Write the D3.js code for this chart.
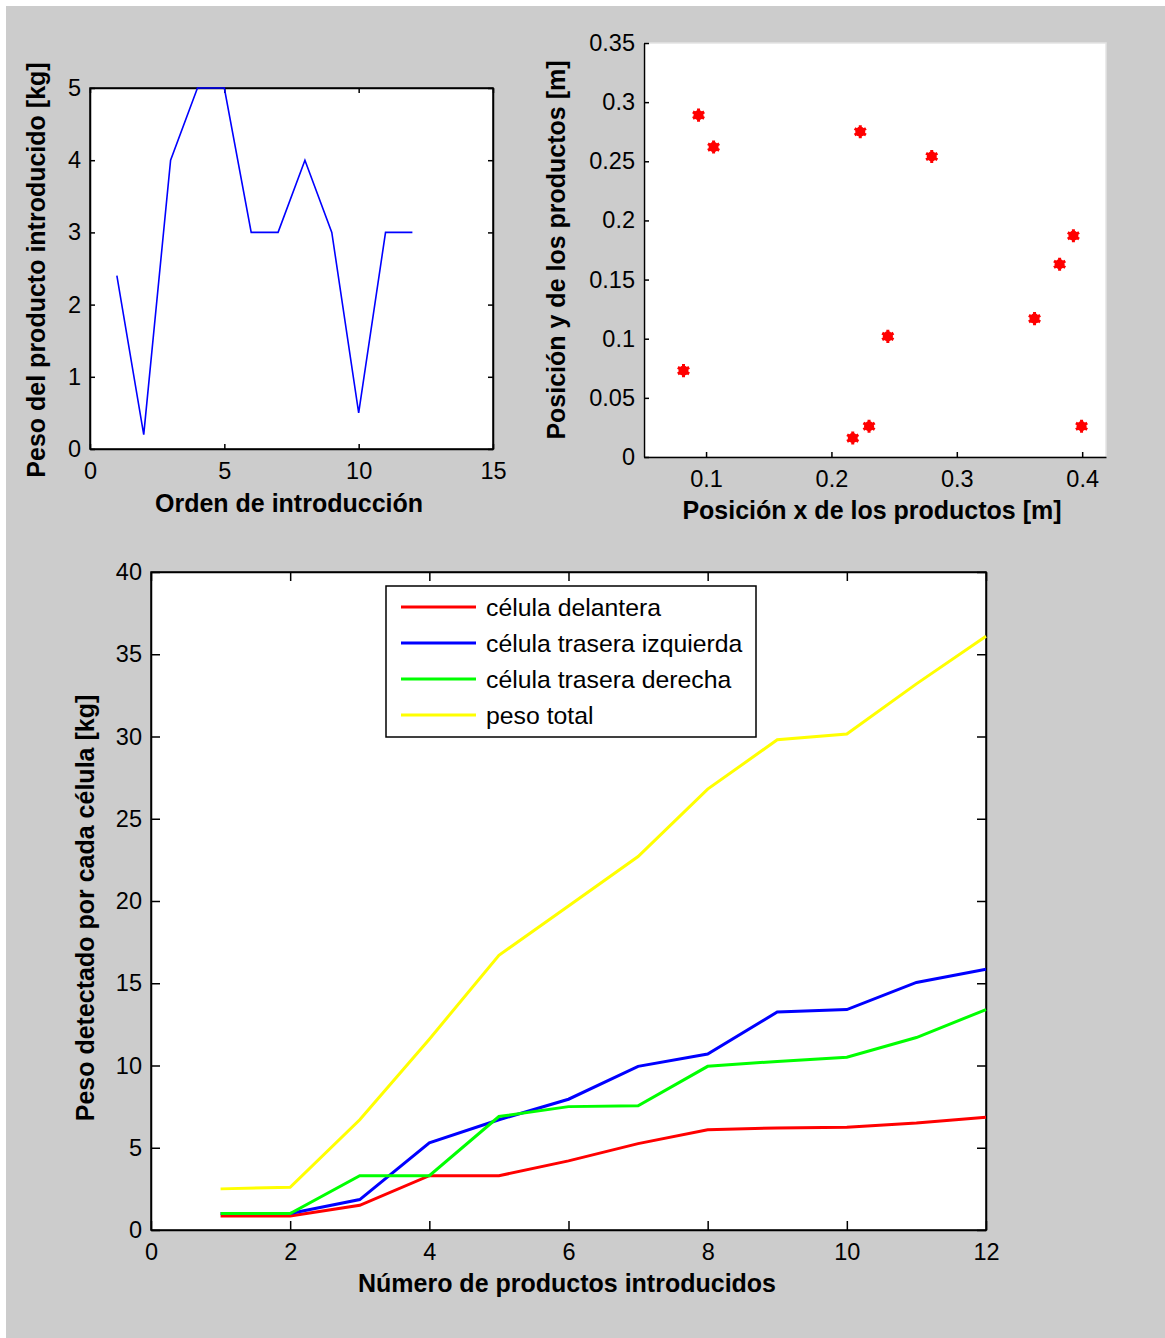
<!DOCTYPE html>
<html>
<head>
<meta charset="utf-8">
<script src="https://cdn.jsdelivr.net/npm/d3@7"></script>
<style>
  body { margin: 0; background: #fff; }
  svg text { font-family: "Liberation Sans", Arial, sans-serif; fill: #000; }
  .tick text { font-size: 23.5px; }
  .lbl { font-size: 25px; font-weight: bold; }
  .leg { font-size: 24.8px; }
</style>
</head>
<body>
<svg></svg>
<script>
// data
const orden = [1, 2, 3, 4, 5, 6, 7, 8, 9, 10, 11, 12];
const peso = [2.4, 0.2, 4.0, 5.0, 5.0, 3.0, 3.0, 4.0, 3.0, 0.5, 3.0, 3.0];

const posX = [0.082, 0.094, 0.106, 0.223, 0.280, 0.217, 0.230, 0.245, 0.362, 0.382, 0.393, 0.3995];
const posY = [0.073, 0.289, 0.262, 0.275, 0.254, 0.016, 0.026, 0.102, 0.117, 0.163, 0.187, 0.026];

const productos = [1, 2, 3, 4, 5, 6, 7, 8, 9, 10, 11, 12];
const delantera = [0.85, 0.85, 1.5, 3.3, 3.3, 4.2, 5.25, 6.1, 6.2, 6.25, 6.5, 6.85];
const izquierda = [1.0, 1.0, 1.85, 5.3, 6.7, 7.95, 9.95, 10.7, 13.25, 13.4, 15.05, 15.85];
const derecha = [1.0, 1.0, 3.3, 3.3, 6.9, 7.5, 7.55, 9.95, 10.25, 10.5, 11.7, 13.4];
const total = [2.5, 2.6, 6.7, 11.6, 16.7, 19.7, 22.7, 26.8, 29.8, 30.15, 33.2, 36.1];

const seriesNames = ["célula delantera", "célula trasera izquierda", "célula trasera derecha", "peso total"];
const seriesColors = ["#ff0000", "#0000ff", "#00ff00", "#ffff00"];

const ticks1x = [0, 5, 10, 15], ticks1y = [0, 1, 2, 3, 4, 5];
const ticks2x = [0.1, 0.2, 0.3, 0.4], ticks2y = [0, 0.05, 0.1, 0.15, 0.2, 0.25, 0.3, 0.35];
const ticks3x = [0, 2, 4, 6, 8, 10, 12], ticks3y = [0, 5, 10, 15, 20, 25, 30, 35, 40];

const width = 1165, height = 1338;

const svg = d3.select("svg")
  .attr("width", width)
  .attr("height", height);

// figure background
svg.append("rect")
  .attr("x", 6).attr("y", 6)
  .attr("width", width - 6).attr("height", height - 6)
  .attr("fill", "#cccccc");

// draws frame + inward ticks, returns a group
function panel(x, y, box, tk, xticks, yticks, fmt) {
  const g = svg.append("g");
  g.append("rect")
    .attr("x", x.range()[0]).attr("y", y.range()[1])
    .attr("width", x.range()[1] - x.range()[0])
    .attr("height", y.range()[0] - y.range()[1])
    .attr("fill", "#fff")
    .attr("stroke", box ? "#000" : "#e4e4e4")
    .attr("stroke-width", 1.5);

  const bottom = g.append("g")
    .attr("transform", `translate(0,${y.range()[0]})`)
    .call(d3.axisBottom(x).tickValues(xticks).tickSizeInner(-tk).tickSizeOuter(0)
      .tickPadding(13).tickFormat(fmt));
  const left = g.append("g")
    .attr("transform", `translate(${x.range()[0]},0)`)
    .call(d3.axisLeft(y).tickValues(yticks).tickSizeInner(-tk).tickSizeOuter(0)
      .tickPadding(9).tickFormat(fmt));
  if (box) {
    g.append("g")
      .attr("transform", `translate(0,${y.range()[1]})`)
      .call(d3.axisTop(x).tickValues(xticks).tickSizeInner(-tk).tickSizeOuter(0).tickFormat(""));
    g.append("g")
      .attr("transform", `translate(${x.range()[1]},0)`)
      .call(d3.axisRight(y).tickValues(yticks).tickSizeInner(-tk).tickSizeOuter(0).tickFormat(""));
  }
  g.selectAll(".domain").attr("stroke", "#000").attr("stroke-width", 1.5);
  g.selectAll(".tick line").attr("stroke", "#000").attr("stroke-width", 1.5);
  g.selectAll(".tick text").attr("font-family", null).attr("font-size", null);
  bottom.selectAll(".tick text").attr("dy", "0.71em");
  return g;
}

function ylabel(g, text, bx, cy) {
  g.append("text")
    .attr("class", "lbl")
    .attr("transform", `translate(${bx},${cy}) rotate(-90)`)
    .attr("text-anchor", "middle")
    .text(text);
}
function xlabel(g, text, cx, by) {
  g.append("text")
    .attr("class", "lbl")
    .attr("x", cx).attr("y", by)
    .attr("text-anchor", "middle")
    .text(text);
}

const fmt = d => String(d);

// top left: peso por orden
const x1 = d3.scaleLinear().domain([0, 15]).range([90, 493]);
const y1 = d3.scaleLinear().domain([0, 5]).range([449, 88]);
const g1 = panel(x1, y1, true, 5, ticks1x, ticks1y, fmt);
g1.append("path")
  .datum(orden.map((d, i) => [d, peso[i]]))
  .attr("fill", "none")
  .attr("stroke", "#0000ff")
  .attr("stroke-width", 1.6)
  .attr("d", d3.line().x(d => x1(d[0])).y(d => y1(d[1])));
xlabel(g1, "Orden de introducción", 289, 512);
ylabel(g1, "Peso del producto introducido [kg]", 45, 270);

// top right: positions
const x2 = d3.scaleLinear().domain([0.0505, 0.419]).range([644, 1106]);
const y2 = d3.scaleLinear().domain([0, 0.35]).range([457, 43]);
const g2 = panel(x2, y2, false, 5, ticks2x, ticks2y, fmt);
const pts = g2.append("g").selectAll("g")
  .data(posX.map((d, i) => [d, posY[i]]))
  .enter()
  .append("g")
  .attr("transform", d => `translate(${x2(d[0])},${y2(d[1])})`);
pts.append("circle").attr("r", 5).attr("fill", "#ff0000");
pts.append("path")
  .attr("d", d3.symbol(d3.symbolAsterisk, 120))
  .attr("stroke", "#ff0000")
  .attr("stroke-width", 3)
  .attr("fill", "none");
pts.append("path")
  .attr("transform", "rotate(45)")
  .attr("d", d3.symbol(d3.symbolPlus, 80))
  .attr("fill", "#ff0000");
xlabel(g2, "Posición x de los productos [m]", 872, 519);
ylabel(g2, "Posición y de los productos [m]", 565, 250);

// bottom: peso detectado por célula
const x3 = d3.scaleLinear().domain([0, 12]).range([151, 986]);
const y3 = d3.scaleLinear().domain([0, 40]).range([1230, 572]);
const g3 = panel(x3, y3, true, 9, ticks3x, ticks3y, fmt);
const series = [delantera, izquierda, derecha, total];
const line3 = d3.line().x(d => x3(d[0])).y(d => y3(d[1]));
series.forEach((s, k) => {
  g3.append("path")
    .datum(productos.map((d, i) => [d, s[i]]))
    .attr("fill", "none")
    .attr("stroke", seriesColors[k])
    .attr("stroke-width", 3)
    .attr("d", line3);
});
xlabel(g3, "Número de productos introducidos", 567, 1292);
ylabel(g3, "Peso detectado por cada célula [kg]", 94, 908);

// legend
const legend = g3.append("g").attr("transform", "translate(386,586)");
legend.append("rect")
  .attr("width", 370).attr("height", 151)
  .attr("fill", "#fff").attr("stroke", "#000").attr("stroke-width", 1.5);
const rows = legend.selectAll(".row")
  .data(seriesNames)
  .enter()
  .append("g")
  .attr("transform", (d, i) => `translate(0,${21 + i * 36})`);
rows.append("line")
  .attr("x1", 15).attr("x2", 90)
  .attr("stroke", (d, i) => seriesColors[i])
  .attr("stroke-width", 3);
rows.append("text")
  .attr("class", "leg")
  .attr("x", 100).attr("y", 9)
  .text(d => d);
</script>
</body>
</html>
